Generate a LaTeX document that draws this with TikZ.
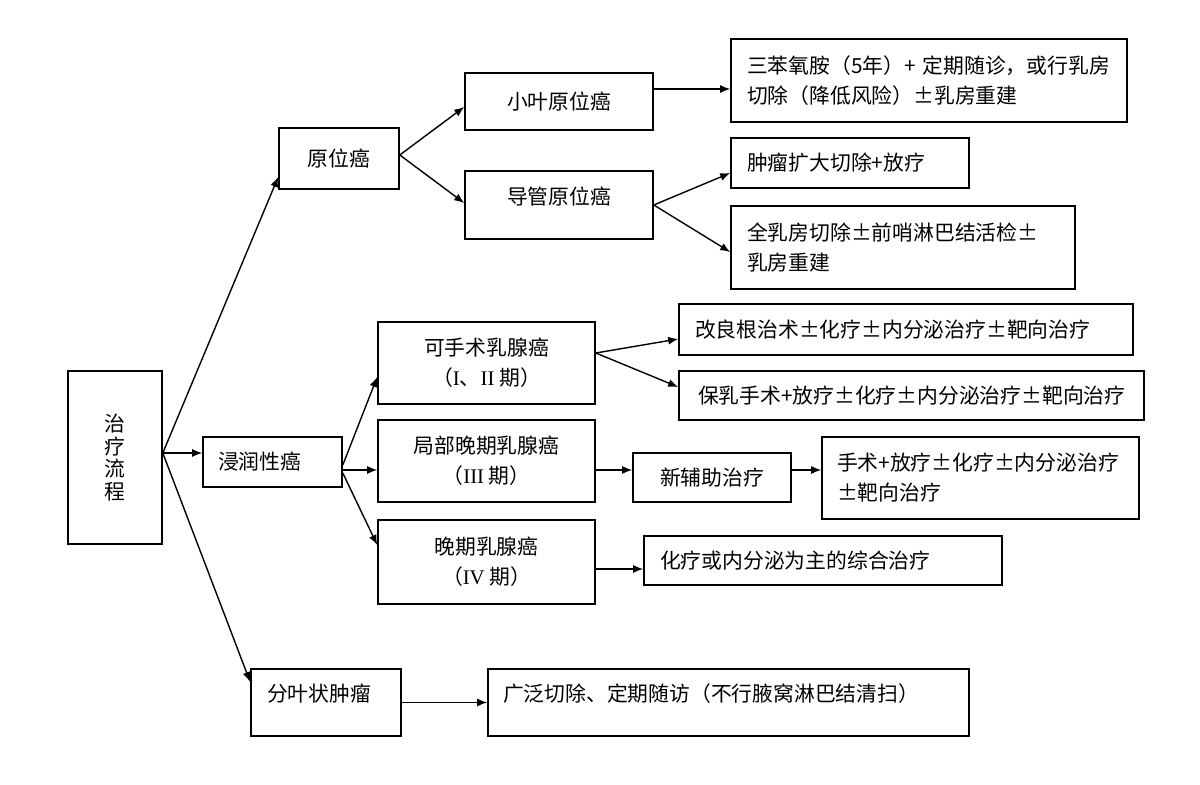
\documentclass[tikz,border=0pt]{standalone}
\usepackage{fontspec}
\newfontfamily\cjkfont{Noto Sans CJK SC}
\newfontfamily\romanfont{Liberation Serif}
\usetikzlibrary{arrows.meta,calc}
\newcommand\pmq{\makebox[1em]{±}}
\newcommand\rmn[1]{{\romanfont #1}}

\begin{document}
\begin{tikzpicture}[x=0.5pt, y=-0.5pt,
    box/.style={draw, line width=0.8pt, inner sep=0pt, align=center,
        font=\cjkfont\fontsize{10.4pt}{15pt}\selectfont},
    lbox/.style={box, align=left, inner xsep=8pt},
    raised/.style={text depth=9.5pt},
    arr/.style={-{Latex[length=5pt,width=4pt]}, line width=0.7pt}]
    \useasboundingbox (0,0) rectangle (1200,785);

    % 根节点
    \node[box, minimum width=47pt, minimum height=86.5pt,
        font=\cjkfont\fontsize{10.4pt}{11.25pt}\selectfont] (root) at (115,457.5) {治\\疗\\流\\程};

    % 原位癌
    \node[box, minimum width=60pt, minimum height=30.5pt] (yuanwei) at (339,158.5) {原位癌};
    \node[box, minimum width=94pt, minimum height=28.5pt] (xiaoye) at (559,101.5) {小叶原位癌};
    \node[box, raised, minimum width=94pt, minimum height=34pt] (daoguan) at (559,205) {导管原位癌};
    \node[lbox, text width=182pt, minimum height=41.5pt] (sanben) at (929,80.5)
        {三苯氧胺（5年）+~定期随诊，或行乳房\\切除（降低风险）\pmq 乳房重建};
    \node[lbox, text width=103pt, minimum height=25pt] (zhongliu) at (850,163) {肿瘤扩大切除+放疗};
    \node[lbox, text width=156pt, minimum height=41.5pt] (quanrufang) at (903,247.5)
        {全乳房切除\pmq 前哨淋巴结活检\pmq\\乳房重建};

    % 浸润性癌
    \node[lbox, inner xsep=7.5pt, text width=54.5pt, minimum height=25pt] (jinrun) at (272.5,462) {浸润性癌};
    \node[box, minimum width=108.5pt, minimum height=41pt] (keshoushu) at (486.5,363)
        {可手术乳腺癌\\（\rmn{I}、\rmn{II} 期）};
    \node[box, minimum width=108.5pt, minimum height=41pt] (jubu) at (486.5,461)
        {局部晚期乳腺癌\\（\rmn{III} 期）};
    \node[box, minimum width=108.5pt, minimum height=42pt] (wanqi) at (486.5,562)
        {晚期乳腺癌\\（\rmn{IV} 期）};
    \node[lbox, text width=211pt, minimum height=25.5pt] (gailiang) at (906,329.5)
        {改良根治术\pmq 化疗\pmq 内分泌治疗\pmq 靶向治疗};
    \node[lbox, inner xsep=9.5pt, text width=213.5pt, minimum height=24.5pt] (baoru) at (911.5,395.5)
        {保乳手术+放疗\pmq 化疗\pmq 内分泌治疗\pmq 靶向治疗};
    \node[box, minimum width=79pt, minimum height=24.5pt] (xinfuzhu) at (712,477.5) {新辅助治疗};
    \node[lbox, inner xsep=7.5pt, text width=143.5pt, minimum height=41pt] (shoushu) at (980.5,478)
        {手术+放疗\pmq 化疗\pmq 内分泌治疗\\\pmq 靶向治疗};
    \node[lbox, text width=163pt, minimum height=24.5pt] (hualiao) at (823,560.5) {化疗或内分泌为主的综合治疗};

    % 分叶状肿瘤
    \node[lbox, raised, text width=59pt, minimum height=33.5pt] (fenye) at (326,702.5) {分叶状肿瘤};
    \node[lbox, raised, inner xsep=7.5pt, text width=225.5pt, minimum height=33.5pt] (guangfan) at (728.5,702.5)
        {广泛切除、定期随访（不行腋窝淋巴结清扫）};

    % 连线
    \coordinate (f0) at ($(root.east)+(0,-4.5)$);
    \draw[arr] (f0) -- ($(yuanwei.west)+(0,18.5)$);
    \draw[arr] (f0) -- (f0 -| jinrun.west);
    \draw[arr] (f0) -- ($(fenye.west)+(0,-20.5)$);

    \coordinate (f1) at ($(yuanwei.east)+(0,-3.5)$);
    \draw[arr] (f1) -- ($(xiaoye.west)+(0,5.5)$);
    \draw[arr] (f1) -- ($(daoguan.west)+(0,-2)$);
    \coordinate (f2) at ($(xiaoye.east)+(0,-12.5)$);
    \draw[arr] (f2) -- (f2 -| sanben.west);
    \draw[arr] (daoguan.east) -- ($(zhongliu.west)+(0,10)$);
    \draw[arr] (daoguan.east) -- ($(quanrufang.west)+(0,4.5)$);

    \coordinate (f3) at ($(jinrun.east)+(0,3)$);
    \draw[arr] (f3) -- ($(keshoushu.west)+(0,14)$);
    \coordinate (f4) at ($(jinrun.east)+(0,8)$);
    \draw[arr] (f4) -- (f4 -| jubu.west);
    \coordinate (f5) at ($(jinrun.east)+(0,11)$);
    \draw[arr] (f5) -- ($(wanqi.west)+(0,-17)$);

    \coordinate (f6) at ($(keshoushu.east)+(0,-10)$);
    \draw[arr] (f6) -- ($(gailiang.west)+(0,9.5)$);
    \draw[arr] (f6) -- ($(baoru.west)+(0,-8.5)$);
    \coordinate (f7) at ($(jubu.east)+(0,9)$);
    \draw[arr] (f7) -- (f7 -| xinfuzhu.west);
    \coordinate (f8) at ($(xinfuzhu.east)+(0,-7.5)$);
    \draw[arr] (f8) -- (f8 -| shoushu.west);
    \coordinate (f9) at ($(wanqi.east)+(0,7)$);
    \draw[arr] (f9) -- (f9 -| hualiao.west);
    \draw[arr] (fenye.east) -- (guangfan.west);
\end{tikzpicture}
\end{document}
